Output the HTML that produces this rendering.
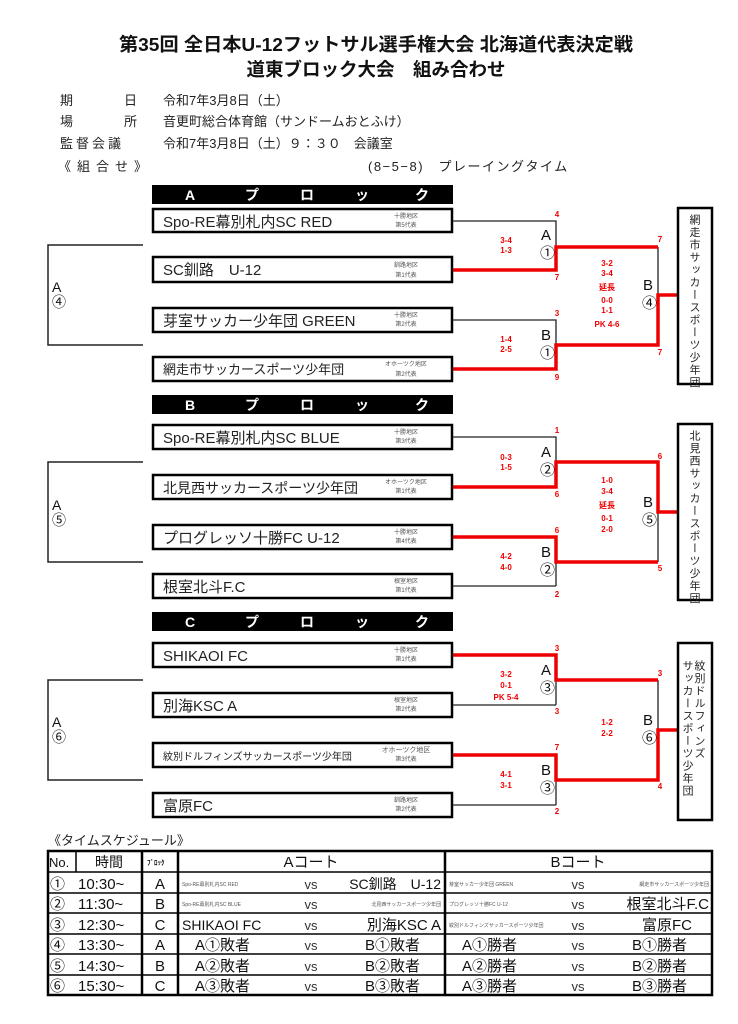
<!DOCTYPE html>
<html><head><meta charset="utf-8">
<style>
body{margin:0;background:#fff;}
#w{position:relative;width:738px;height:1024px;overflow:hidden;font-family:"Liberation Sans","Noto Sans CJK JP",sans-serif;}
.v{position:absolute;writing-mode:vertical-rl;font-size:11px;color:#222;line-height:12px;letter-spacing:1.5px;}
</style></head><body><div id="w">
<svg width="738" height="1024" xmlns="http://www.w3.org/2000/svg" style="position:absolute;left:0;top:0" font-family="Liberation Sans, Noto Sans CJK JP, sans-serif">
<g font-weight="bold" fill="#111" font-size="18.5" text-anchor="middle">
<text x="376" y="51" textLength="514" lengthAdjust="spacingAndGlyphs">第35回 全日本U-12フットサル選手権大会 北海道代表決定戦</text>
<text x="376" y="76">道東ブロック大会　組み合わせ</text>
</g>
<g fill="#222" font-size="13">
<text x="60" y="105">期</text><text x="124" y="105">日</text><text x="163" y="105">令和7年3月8日（土）</text>
<text x="60" y="126">場</text><text x="124" y="126">所</text><text x="163" y="126">音更町総合体育館（サンドームおとふけ）</text>
<text x="60" y="148" letter-spacing="3">監督会議</text><text x="163" y="148">令和7年3月8日（土）９：３０　会議室</text>
<text x="58" y="171" letter-spacing="6">《組合せ》</text>
<text x="368" y="171" letter-spacing="1.5">(8−5−8)　プレーイングタイム</text>
</g>

<g>
<rect x="152" y="185" width="301" height="19" fill="#000"/>
<rect x="152" y="395" width="301" height="19" fill="#000"/>
<rect x="152" y="612" width="301" height="19" fill="#000"/>
<g fill="#fff" font-size="14" font-weight="bold">
<text x="185" y="200">A</text><text x="245" y="200">プ</text><text x="300" y="200">ロ</text><text x="355" y="200">ッ</text><text x="415" y="200">ク</text>
<text x="185" y="410">B</text><text x="245" y="410">プ</text><text x="300" y="410">ロ</text><text x="355" y="410">ッ</text><text x="415" y="410">ク</text>
<text x="185" y="627">C</text><text x="245" y="627">プ</text><text x="300" y="627">ロ</text><text x="355" y="627">ッ</text><text x="415" y="627">ク</text>
</g>
</g>

<g fill="#fff" stroke="#000" stroke-width="2.5">
<rect x="153" y="209" width="299" height="23"/>
<rect x="153" y="257" width="299" height="25"/>
<rect x="153" y="308" width="299" height="24"/>
<rect x="153" y="357" width="299" height="24"/>
<rect x="153" y="425" width="299" height="24"/>
<rect x="153" y="475" width="299" height="24"/>
<rect x="153" y="525" width="299" height="24"/>
<rect x="153" y="574" width="299" height="24"/>
<rect x="153" y="643" width="299" height="24"/>
<rect x="153" y="693" width="299" height="24"/>
<rect x="153" y="743" width="299" height="24"/>
<rect x="153" y="793" width="299" height="24"/>
</g>
<g fill="#222" font-size="15">
<text x="163" y="227">Spo-RE幕別札内SC RED</text>
<text x="163" y="275">SC釧路　U-12</text>
<text x="163" y="326">芽室サッカー少年団 GREEN</text>
<text x="163" y="374" font-size="13">網走市サッカースポーツ少年団</text>
<text x="163" y="443">Spo-RE幕別札内SC BLUE</text>
<text x="163" y="493" font-size="14">北見西サッカースポーツ少年団</text>
<text x="163" y="543">プログレッソ十勝FC U-12</text>
<text x="163" y="592">根室北斗F.C</text>
<text x="163" y="661">SHIKAOI FC</text>
<text x="163" y="711">別海KSC A</text>
<text x="163" y="760" font-size="10">紋別ドルフィンズサッカースポーツ少年団</text>
<text x="163" y="811">富原FC</text>
</g>
<g fill="#555" font-size="6" text-anchor="middle">
<text x="406" y="218">十勝地区</text><text x="406" y="227">第5代表</text>
<text x="406" y="267">釧路地区</text><text x="406" y="277">第1代表</text>
<text x="406" y="317">十勝地区</text><text x="406" y="326">第2代表</text>
<text x="406" y="366">オホーツク地区</text><text x="406" y="376">第2代表</text>
<text x="406" y="434">十勝地区</text><text x="406" y="443">第3代表</text>
<text x="406" y="484">オホーツク地区</text><text x="406" y="493">第1代表</text>
<text x="406" y="534">十勝地区</text><text x="406" y="543">第4代表</text>
<text x="406" y="583">根室地区</text><text x="406" y="592">第1代表</text>
<text x="406" y="652">十勝地区</text><text x="406" y="661">第1代表</text>
<text x="406" y="702">根室地区</text><text x="406" y="711">第2代表</text>
<text x="406" y="752" font-size="7">オホーツク地区</text><text x="406" y="761">第3代表</text>
<text x="406" y="802">釧路地区</text><text x="406" y="811">第2代表</text>
</g>

<g fill="none" stroke="#222" stroke-width="1.5">
<polyline points="143,245 48,245 48,345 143,345"/>
<polyline points="143,462 48,462 48,562 143,562"/>
<polyline points="143,680 48,680 48,780 143,780"/>
</g>
<g fill="#111" font-size="14">
<text x="52" y="292">A</text><text x="52" y="307">④</text>
<text x="52" y="510">A</text><text x="52" y="525">⑤</text>
<text x="52" y="727">A</text><text x="52" y="742">⑥</text>
</g>

<g fill="none" stroke="#222" stroke-width="1.3">
<polyline points="453,221 556,221 556,247"/>
<polyline points="453,320 556,320 556,345"/>
<line x1="658" y1="247" x2="658" y2="295"/>
<polyline points="453,437 556,437 556,462"/>
<line x1="556" y1="562" x2="556" y2="586"/><line x1="453" y1="586" x2="556" y2="586"/>
<line x1="658" y1="512" x2="658" y2="562"/>
<line x1="556" y1="680" x2="556" y2="705"/><line x1="453" y1="705" x2="556" y2="705"/>
<line x1="556" y1="780" x2="556" y2="805"/><line x1="453" y1="805" x2="556" y2="805"/>
<line x1="658" y1="680" x2="658" y2="730"/>
</g>
<g fill="none" stroke="#e00" stroke-width="3.5">
<polyline points="453,270 556,270 556,247 658,247"/>
<polyline points="453,369 556,369 556,345 658,345 658,295 677,295"/>
<polyline points="453,487 556,487 556,462 658,462 658,512 677,512"/>
<polyline points="453,537 556,537 556,562 658,562"/>
<polyline points="453,655 556,655 556,680 658,680"/>
<polyline points="453,755 556,755 556,780 658,780 658,730 677,730"/>
</g>

<g fill="#111" font-size="15">
<text x="541" y="240">A</text><text x="540" y="258">①</text>
<text x="541" y="340">B</text><text x="540" y="358">①</text>
<text x="643" y="290">B</text><text x="642" y="308">④</text>
<text x="541" y="457">A</text><text x="540" y="475">②</text>
<text x="541" y="557">B</text><text x="540" y="575">②</text>
<text x="643" y="507">B</text><text x="642" y="525">⑤</text>
<text x="541" y="675">A</text><text x="540" y="693">③</text>
<text x="541" y="775">B</text><text x="540" y="793">③</text>
<text x="643" y="725">B</text><text x="642" y="743">⑥</text>
</g>

<g fill="#e00" font-size="8" font-weight="bold" text-anchor="middle">
<text x="557" y="217">4</text><text x="557" y="280">7</text><text x="557" y="316">3</text><text x="557" y="380">9</text>
<text x="660" y="242">7</text><text x="660" y="355">7</text>
<text x="557" y="433">1</text><text x="557" y="497">6</text><text x="557" y="533">6</text><text x="557" y="597">2</text>
<text x="660" y="459">6</text><text x="660" y="571">5</text>
<text x="557" y="651">3</text><text x="557" y="714">3</text><text x="557" y="750">7</text><text x="557" y="814">2</text>
<text x="660" y="676">3</text><text x="660" y="789">4</text>
<text x="506" y="243">3-4</text><text x="506" y="253">1-3</text>
<text x="506" y="342">1-4</text><text x="506" y="352">2-5</text>
<text x="607" y="266">3-2</text><text x="607" y="276">3-4</text><text x="607" y="290">延長</text><text x="607" y="303">0-0</text><text x="607" y="313">1-1</text><text x="607" y="327">PK 4-6</text>
<text x="506" y="460">0-3</text><text x="506" y="470">1-5</text>
<text x="607" y="483">1-0</text><text x="607" y="494">3-4</text><text x="607" y="508">延長</text><text x="607" y="521">0-1</text><text x="607" y="532">2-0</text>
<text x="506" y="559">4-2</text><text x="506" y="570">4-0</text>
<text x="506" y="677">3-2</text><text x="506" y="688">0-1</text><text x="506" y="700">PK 5-4</text>
<text x="607" y="725">1-2</text><text x="607" y="736">2-2</text>
<text x="506" y="777">4-1</text><text x="506" y="788">3-1</text>
</g>

<g fill="#fff" stroke="#000" stroke-width="2.5">
<rect x="678" y="208" width="34" height="176"/>
<rect x="678" y="424" width="34" height="176"/>
<rect x="678" y="643" width="34" height="177"/>
</g>

<text x="48" y="845" font-size="13" fill="#222">《タイムスケジュール》</text>
<g fill="none" stroke="#000">
<rect x="48" y="851" width="664" height="144" stroke-width="2.5"/>
<g stroke-width="1.5">
<line x1="48" y1="872" x2="712" y2="872"/>
<line x1="48" y1="893" x2="712" y2="893"/>
<line x1="48" y1="913" x2="712" y2="913"/>
<line x1="48" y1="934" x2="712" y2="934"/>
<line x1="48" y1="954" x2="712" y2="954"/>
<line x1="48" y1="975" x2="712" y2="975"/>
<line x1="76" y1="851" x2="76" y2="872"/>
</g>
<g stroke-width="2.5">
<line x1="142" y1="851" x2="142" y2="995"/>
<line x1="178" y1="851" x2="178" y2="995"/>
<line x1="445" y1="851" x2="445" y2="995"/>
</g>
</g>
<g fill="#111" font-size="15">
<text x="49" y="867" font-size="13">No.</text>
<text x="95" y="867" font-size="14">時間</text>
<text x="147" y="865" font-size="7" font-weight="bold">ﾌﾞﾛｯｸ</text>
<text x="311" y="867" text-anchor="middle">Aコート</text>
<text x="578" y="867" text-anchor="middle">Bコート</text>
<text x="50" y="889">①</text><text x="78" y="889">10:30~</text><text x="160" y="889" text-anchor="middle">A</text>
<text x="50" y="909">②</text><text x="78" y="909">11:30~</text><text x="160" y="909" text-anchor="middle">B</text>
<text x="50" y="930">③</text><text x="78" y="930">12:30~</text><text x="160" y="930" text-anchor="middle">C</text>
<text x="50" y="950">④</text><text x="78" y="950">13:30~</text><text x="160" y="950" text-anchor="middle">A</text>
<text x="50" y="971">⑤</text><text x="78" y="971">14:30~</text><text x="160" y="971" text-anchor="middle">B</text>
<text x="50" y="991">⑥</text><text x="78" y="991">15:30~</text><text x="160" y="991" text-anchor="middle">C</text>
<g font-size="13" fill="#333" text-anchor="middle">
<text x="311" y="889">vs</text><text x="578" y="889">vs</text>
<text x="311" y="909">vs</text><text x="578" y="909">vs</text>
<text x="311" y="930">vs</text><text x="578" y="930">vs</text>
<text x="311" y="950">vs</text><text x="578" y="950">vs</text>
<text x="311" y="971">vs</text><text x="578" y="971">vs</text>
<text x="311" y="991">vs</text><text x="578" y="991">vs</text>
</g>
<g font-size="5" fill="#555">
<text x="182" y="886">Spo-RE幕別札内SC RED</text>
<text x="449" y="886">芽室サッカー少年団 GREEN</text>
<text x="182" y="906">Spo-RE幕別札内SC BLUE</text>
<text x="449" y="906">プログレッソ十勝FC U-12</text>
<text x="449" y="927">紋別ドルフィンズサッカースポーツ少年団</text>
<text x="441" y="906" text-anchor="end">北見西サッカースポーツ少年団</text>
<text x="709" y="886" text-anchor="end">網走市サッカースポーツ少年団</text>
</g>
<text x="441" y="889" text-anchor="end" font-size="14">SC釧路　U-12</text>
<text x="709" y="909" text-anchor="end">根室北斗F.C</text>
<text x="182" y="930" font-size="14">SHIKAOI FC</text>
<text x="441" y="930" text-anchor="end">別海KSC A</text>
<text x="692" y="930" text-anchor="end">富原FC</text>
<text x="195" y="950">A①敗者</text><text x="365" y="950">B①敗者</text><text x="462" y="950">A①勝者</text><text x="632" y="950">B①勝者</text>
<text x="195" y="971">A②敗者</text><text x="365" y="971">B②敗者</text><text x="462" y="971">A②勝者</text><text x="632" y="971">B②勝者</text>
<text x="195" y="991">A③敗者</text><text x="365" y="991">B③敗者</text><text x="462" y="991">A③勝者</text><text x="632" y="991">B③勝者</text>
</g>
</svg>
<div class="v" style="left:688px;top:214px;">網走市サッカースポーツ少年団</div>
<div class="v" style="left:688px;top:430px;">北見西サッカースポーツ少年団</div>
<div class="v" style="left:681px;top:660px;">紋別ドルフィンズ<br>サッカースポーツ少年団</div>
</div></body></html>
